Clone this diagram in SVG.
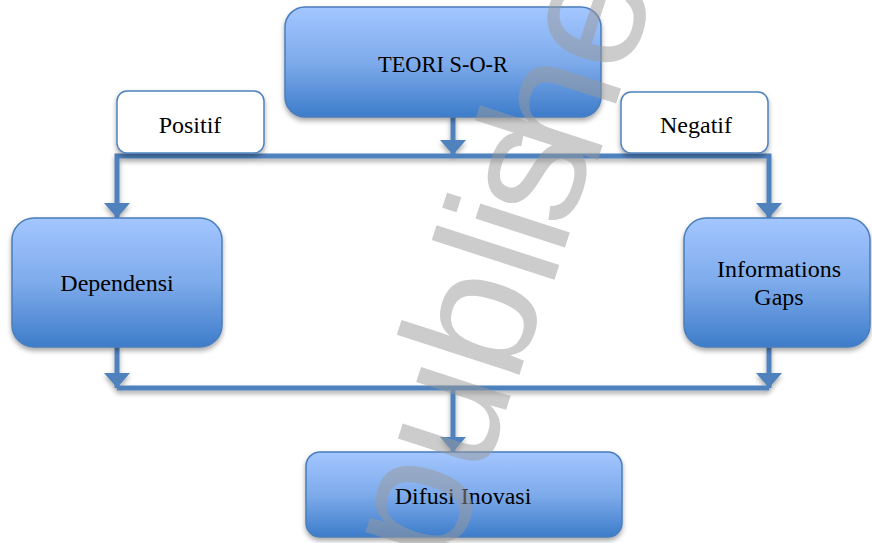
<svg xmlns="http://www.w3.org/2000/svg" width="872" height="543" viewBox="0 0 872 543">
<style>
.box{fill:url(#g);stroke:#4a7ebb;stroke-width:1.5;filter:url(#sh)}
.wbox{fill:#fff;stroke:#4f81bd;stroke-width:1.5;filter:url(#sh)}
.t{font-family:"Liberation Serif","Times New Roman",serif;font-size:24px;fill:#000;text-anchor:middle}
.c{fill:none;stroke:#4f81bd;stroke-width:5;stroke-linejoin:miter}
.wm{font-family:"Liberation Sans",Arial,sans-serif;font-size:178px;fill:#9a9a9a;opacity:0.5}
</style>
<defs>
<linearGradient id="g" x1="0" y1="0" x2="0" y2="1">
<stop offset="0" stop-color="#a3c6ff"/>
<stop offset="0.5" stop-color="#7eabeb"/>
<stop offset="1" stop-color="#3d7cca"/>
</linearGradient>
<filter id="sh" x="-10%" y="-10%" width="120%" height="130%">
<feDropShadow dx="0" dy="3" stdDeviation="2.5" flood-color="#000" flood-opacity="0.35"/>
</filter>
<marker id="a" viewBox="0 0 15 26" refX="15" refY="13" markerWidth="15" markerHeight="26" markerUnits="userSpaceOnUse" orient="auto">
<path d="M0,0 L15,13 L0,26 z" fill="#4f81bd"/>
</marker>
</defs>
<g id="connectors" filter="url(#sh)">
<path class="c" d="M453,117 V155" marker-end="url(#a)"/>
<path class="c" d="M453,156 H117 V218" marker-end="url(#a)"/>
<path class="c" d="M453,156 H769 V218" marker-end="url(#a)"/>
<path class="c" d="M117,347 V388" marker-end="url(#a)"/>
<path class="c" d="M769,347 V388" marker-end="url(#a)"/>
<path class="c" d="M117,388 H769"/>
<path class="c" d="M453,388 V452" marker-end="url(#a)"/>
</g>
<g id="teori">
<rect class="box" x="285" y="7" width="316" height="110" rx="20"/>
<text class="t" x="443" y="72" textLength="130" lengthAdjust="spacingAndGlyphs">TEORI S-O-R</text>
</g>
<g id="positif">
<rect class="wbox" x="117" y="91" width="147" height="62" rx="10"/>
<text class="t" x="190" y="133">Positif</text>
</g>
<g id="negatif">
<rect class="wbox" x="621" y="92" width="147" height="61" rx="10"/>
<text class="t" x="696" y="133">Negatif</text>
</g>
<g id="dependensi">
<rect class="box" x="12" y="218" width="210" height="129" rx="22"/>
<text class="t" x="117" y="291">Dependensi</text>
</g>
<g id="informations">
<rect class="box" x="684" y="218" width="186" height="129" rx="22"/>
<text class="t" x="779" y="277">Informations</text>
<text class="t" x="779" y="305">Gaps</text>
</g>
<g id="difusi">
<rect class="box" x="306" y="452" width="316" height="85" rx="14"/>
<text class="t" x="463" y="504">Difusi Inovasi</text>
</g>
<text class="wm" transform="translate(522,367) rotate(-72)" x="-217 -118 -20 81 115 143 208 305 404" y="-4 -2 0 4 4 2 8 10 12">published</text>
</svg>
